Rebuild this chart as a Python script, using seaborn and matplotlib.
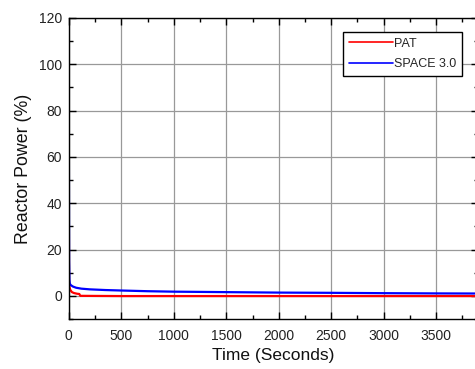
import matplotlib
matplotlib.use("Agg")
import matplotlib.pyplot as plt
import seaborn as sns
import pandas as pd
from matplotlib.ticker import MultipleLocator

# Data
pat_time = [0, 1, 2, 4, 8, 15, 30, 50, 80, 100, 110, 500, 1000, 2000, 3000, 3900]
pat_power = [100, 30, 6, 4.5, 3.5, 2.5, 1.6, 1.2, 0.9, 0.8, 0.0, -0.1, -0.1, -0.1, -0.1, -0.1]
space_time = [0, 1, 3, 6, 10, 20, 40, 70, 120, 200, 350, 500, 750, 1000, 1500, 2000, 2500, 3000, 3500, 3900]
space_power = [100, 60, 15, 7, 5.2, 4.6, 4.0, 3.5, 3.1, 2.8, 2.5, 2.3, 2.0, 1.8, 1.6, 1.4, 1.3, 1.15, 1.05, 1.0]
series_names = ["PAT", "SPACE 3.0"]
colors = ["#ff0000", "#0000ff"]

df = pd.concat([
    pd.DataFrame({"Time": pat_time, "Power": pat_power, "Series": series_names[0]}),
    pd.DataFrame({"Time": space_time, "Power": space_power, "Series": series_names[1]}),
])

sns.set_style("ticks")
plt.rcParams['font.family'] = ['Liberation Sans', 'DejaVu Sans']

fig = plt.figure(figsize=(4.75, 3.69), dpi=100)
ax = fig.add_axes([0.1448, 0.1355, 0.862, 0.816])

sns.lineplot(data=df, x="Time", y="Power", hue="Series", hue_order=series_names,
             palette=colors, linewidth=1.6, ax=ax, sort=False, estimator=None)

ax.set_xlim(0, 3900)
ax.set_ylim(-10, 120)
ax.xaxis.set_major_locator(MultipleLocator(500))
ax.xaxis.set_minor_locator(MultipleLocator(250))
ax.yaxis.set_major_locator(MultipleLocator(20))
ax.yaxis.set_minor_locator(MultipleLocator(10))
ax.tick_params(which='both', direction='in', top=True, right=True, width=1.0, colors='black', labelsize=10)
ax.tick_params(which='major', length=5)
ax.tick_params(which='minor', length=3)
ax.tick_params(axis='x', which='major', pad=7)
ax.tick_params(axis='y', which='major', pad=5)
for lab in ax.get_xticklabels() + ax.get_yticklabels():
    lab.set_color('#222222')
ax.grid(True, which='major', color='#999999', linewidth=0.9)
ax.set_axisbelow(True)
for s in ax.spines.values():
    s.set_linewidth(1.0)
    s.set_color('black')

ax.set_xlabel("Time (Seconds)", fontsize=12.5, labelpad=4, color='#111111')
ax.set_ylabel("Reactor Power (%)", fontsize=12.8, labelpad=5, color='#111111')

leg = ax.legend(loc='upper right', bbox_to_anchor=(0.961, 0.953), borderaxespad=0,
                fontsize=9.0, handlelength=3.5, handletextpad=0.15, frameon=True,
                fancybox=False, edgecolor='black', framealpha=1, borderpad=0.45,
                labelspacing=0.7, title=None)
leg.get_frame().set_linewidth(1.0)
for line in leg.get_lines():
    line.set_linewidth(1.2)

fig.savefig("out.png", dpi=100)
